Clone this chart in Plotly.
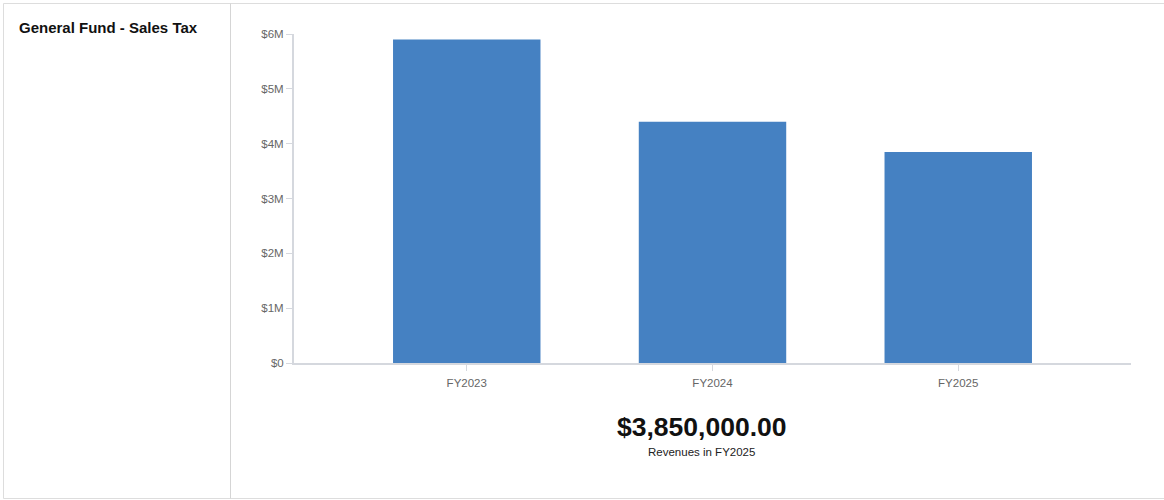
import plotly.graph_objects as go

categories = ["FY2023", "FY2024", "FY2025"]
revenues = [5900000, 4400000, 3850000]
y_tick_vals = [0, 1000000, 2000000, 3000000, 4000000, 5000000, 6000000]
y_tick_text = ["$0", "$1M", "$2M", "$3M", "$4M", "$5M", "$6M"]
title_text = "General Fund - Sales Tax"
headline = "$3,850,000.00"
subline = "Revenues in FY2025"

W, H = 1164, 500
L, R, T, B = 294, 33, 34, 137
pw, ph = W - L - R, H - T - B

def px(x):
    return (x - L) / pw

def py(y):
    return (H - B - y) / ph

fig = go.Figure(go.Bar(
    x=categories, y=revenues, width=0.6,
    marker=dict(color="#4581c2", line=dict(width=0)),
    hoverinfo="x+y",
))

axis_col = "#d5d8de"
font = "Liberation Sans, Arial, sans-serif"

fig.update_layout(
    width=W, height=H,
    margin=dict(l=L, r=R, t=T, b=B, pad=0),
    paper_bgcolor="white", plot_bgcolor="white",
    showlegend=False,
    font=dict(family=font, color="#666666", size=11.5),
    xaxis=dict(
        range=[-0.703, 2.703], showgrid=False, zeroline=False,
        showline=True, linecolor=axis_col, linewidth=2,
        ticks="outside", ticklen=6, tickcolor=axis_col, tickwidth=1,
        ticklabelstandoff=2,
        tickfont=dict(size=11.5, color="#666666"), fixedrange=True,
    ),
    yaxis=dict(
        range=[0, 6000000], showgrid=False, zeroline=False,
        showline=True, linecolor=axis_col, linewidth=2,
        ticks="outside", ticklen=6, tickcolor=axis_col, tickwidth=1,
        tickvals=y_tick_vals, ticktext=y_tick_text,
        tickfont=dict(size=11.5, color="#666666"), fixedrange=True,
    ),
    shapes=[
        dict(type="rect", xref="paper", yref="paper",
             x0=px(3.5), x1=px(1166), y0=py(3.5), y1=py(498.5),
             line=dict(color="#dddddd", width=1), layer="below"),
        dict(type="line", xref="paper", yref="paper",
             x0=px(230.5), x1=px(230.5), y0=py(3.5), y1=py(498.5),
             line=dict(color="#d5d5d5", width=1)),
    ],
    annotations=[
        dict(text=f"<b>{title_text}</b>", xref="paper", yref="paper",
             x=px(17), y=py(28), xanchor="left", yanchor="middle",
             showarrow=False, font=dict(size=15, color="#111111", family=font)),
        dict(text=f"<b>{headline}</b>", xref="paper", yref="paper",
             x=px(701), y=py(427), xanchor="center", yanchor="middle",
             showarrow=False, font=dict(size=26.5, color="#111111", family=font)),
        dict(text=subline, xref="paper", yref="paper",
             x=px(701), y=py(452), xanchor="center", yanchor="middle",
             showarrow=False, font=dict(size=11.5, color="#222222", family=font)),
    ],
)

fig.write_html(
    "out.html",
    config={"displayModeBar": False},
    post_script="document.body.style.margin='0';document.body.style.overflow='hidden';",
)
